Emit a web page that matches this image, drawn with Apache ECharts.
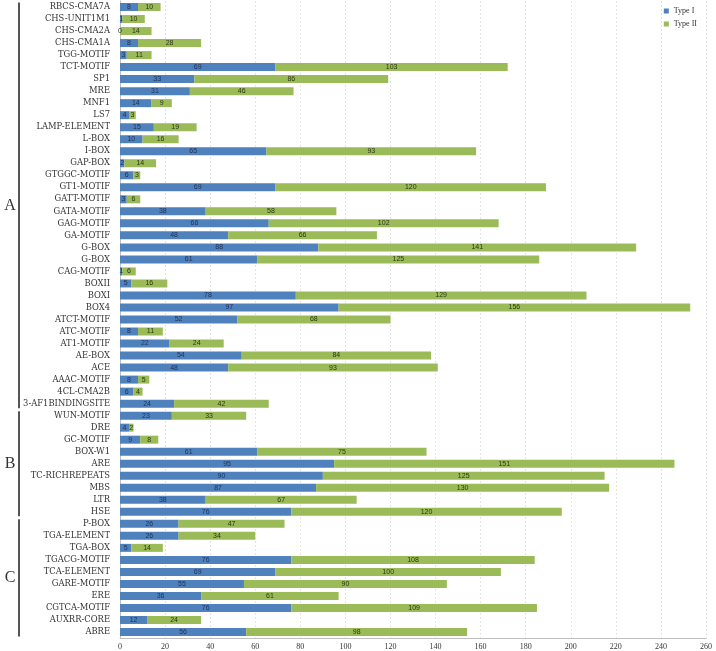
<!DOCTYPE html>
<html>
<head>
<meta charset="utf-8">
<script src="https://cdn.jsdelivr.net/npm/echarts@6/dist/echarts.min.js"></script>
<style>html,body{margin:0;padding:0;background:#fff;}#c{width:716px;height:651px;}</style>
</head>
<body>
<div id="c"></div>
<script>
const categories = ['RBCS-CMA7A','CHS-UNIT1M1','CHS-CMA2A','CHS-CMA1A','TGG-MOTIF','TCT-MOTIF','SP1','MRE','MNF1','LS7','LAMP-ELEMENT','L-BOX','I-BOX','GAP-BOX','GTGGC-MOTIF','GT1-MOTIF','GATT-MOTIF','GATA-MOTIF','GAG-MOTIF','GA-MOTIF','G-BOX','G-BOX','CAG-MOTIF','BOXII','BOXI','BOX4','ATCT-MOTIF','ATC-MOTIF','AT1-MOTIF','AE-BOX','ACE','AAAC-MOTIF','4CL-CMA2B','3-AF1BINDINGSITE','WUN-MOTIF','DRE','GC-MOTIF','BOX-W1','ARE','TC-RICHREPEATS','MBS','LTR','HSE','P-BOX','TGA-ELEMENT','TGA-BOX','TGACG-MOTIF','TCA-ELEMENT','GARE-MOTIF','ERE','CGTCA-MOTIF','AUXRR-CORE','ABRE'];
const typeI = [8,1,0,8,3,69,33,31,14,4,15,10,65,2,6,69,3,38,66,48,88,61,1,5,78,97,52,8,22,54,48,8,6,24,23,4,9,61,95,90,87,38,76,26,26,5,76,69,55,36,76,12,56];
const typeII = [10,10,14,28,11,103,86,46,9,3,19,16,93,14,3,120,6,58,102,66,141,125,6,16,129,156,68,11,24,84,93,5,4,42,33,2,8,75,151,125,130,67,120,47,34,14,108,100,90,61,109,24,98];
const seriesNames = ['Type I','Type II'];
const xTicks = [0,20,40,60,80,100,120,140,160,180,200,220,240,260];
const groupNames = ['A','B','C'];
const groupStart = [0,34,43];
const groupEnd = [33,42,52];

const chart = echarts.init(document.getElementById('c'), null, {renderer:'canvas'});
const idx = categories.map((_, i) => i);
const option = {
  animation: false,
  backgroundColor: '#fff',
  grid: {left: 120, right: 10, top: 1, bottom: 13, containLabel: false},
  legend: {
    data: seriesNames,
    orient: 'vertical',
    right: 14, top: 2,
    itemWidth: 5, itemHeight: 5, itemGap: 5,
    icon: 'rect',
    textStyle: {fontFamily: 'Liberation Serif', fontSize: 8, color: '#333'}
  },
  xAxis: {
    type: 'value', min: xTicks[0], max: xTicks[xTicks.length-1], interval: 20,
    axisLine: {show: true, lineStyle: {color: '#bfbfbf', width: 1}},
    axisTick: {show: false},
    axisLabel: {fontFamily: 'Liberation Serif', fontSize: 8, color: '#333', margin: 5},
    splitLine: {show: true, lineStyle: {color: '#e3e3e3', type: [2,2], width: 1}}
  },
  yAxis: {
    type: 'category', data: idx, inverse: true,
    axisLine: {show: true, lineStyle: {color: '#bfbfbf'}},
    axisTick: {show: false},
    axisLabel: {
      interval: 0, margin: 10,
      fontFamily: 'DejaVu Serif', fontSize: 8.4, color: '#333',
      formatter: (v) => categories[+v]
    }
  },
  series: [
    {
      name: seriesNames[0], type: 'bar', stack: 'total', data: typeI, barWidth: 8,
      itemStyle: {color: '#4f81bd'},
      label: {show: true, position: 'inside', fontFamily: 'Liberation Sans', fontSize: 7, color: '#1f2f4f'}
    },
    {
      name: seriesNames[1], type: 'bar', stack: 'total', data: typeII, barWidth: 8,
      itemStyle: {color: '#9bbb59'},
      label: {show: true, position: 'inside', fontFamily: 'Liberation Sans', fontSize: 7, color: '#2b3316'}
    }
  ]
};
chart.setOption(option);

// group brackets and letters, positioned from the category axis
const y0 = chart.convertToPixel({yAxisIndex: 0}, 0);
const y1 = chart.convertToPixel({yAxisIndex: 0}, 1);
const band = y1 - y0;
const elements = [];
groupNames.forEach((g, k) => {
  const top = chart.convertToPixel({yAxisIndex: 0}, groupStart[k]) - band/2 + 1.5;
  const bot = chart.convertToPixel({yAxisIndex: 0}, groupEnd[k]) + band/2 - 1.5;
  elements.push({
    type: 'line', shape: {x1: 19, y1: top, x2: 19, y2: bot},
    style: {stroke: '#555', lineWidth: 2}
  });
  elements.push({
    type: 'text', x: 10, y: (top + bot) / 2,
    style: {text: g, fill: '#333', font: '16px "Liberation Serif"', align: 'center', verticalAlign: 'middle'}
  });
});
chart.setOption({graphic: {elements}});
</script>
</body>
</html>
